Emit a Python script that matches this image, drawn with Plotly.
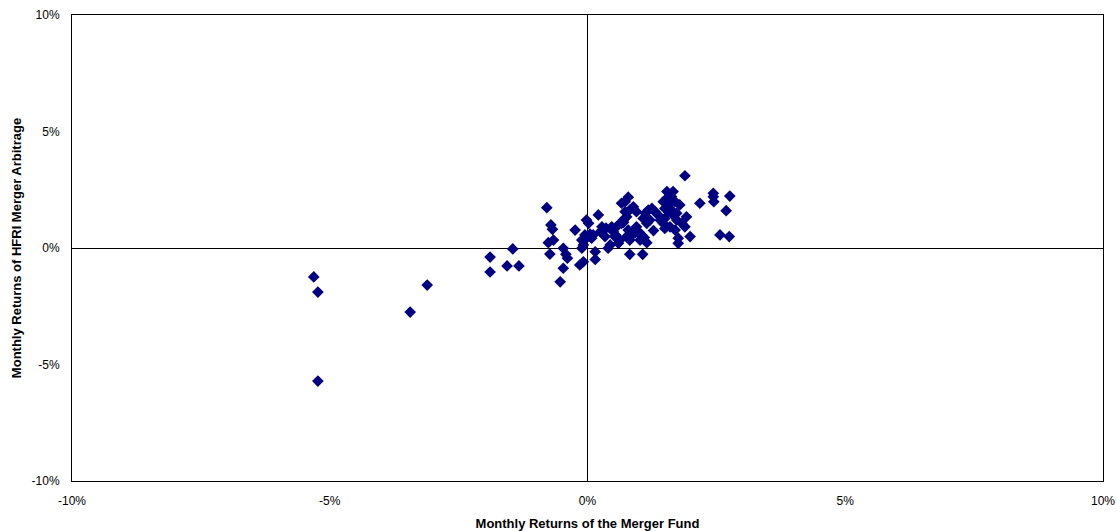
import plotly.graph_objects as go

# Monthly returns (%) — Merger Fund (x) vs HFRI Merger Arbitrage (y)
merger_fund = [
    -5.31, -5.23, -5.23, -3.44, -3.11, -1.89, -1.89, -1.56, -1.45, -1.33,
    -0.79, -0.71, -0.68, -0.76, -0.66, -0.73, -0.47, -0.42, -0.39, -0.47,
    -0.53, -0.24, -0.15, -0.08, -0.11, -0.08, -0.11, -0.02, 0.02, -0.05,
    -0.02, 0.15, 0.15, 0.21, 0.28, 0.34, 0.11, 0.08, 0.40, 0.44,
    0.47, 0.50, 0.53, 0.60, 0.63, 0.66, 0.73, 0.79, 0.73, 0.76,
    0.69, 0.66, 0.82, 0.89, 0.95, 0.76, 0.82, 0.79, 0.89, 0.82,
    0.95, 0.99, 1.05, 1.02, 1.07, 1.15, 1.08, 1.12, 1.18, 1.25,
    1.31, 1.15, 1.21, 1.37, 1.41, 1.47, 1.50, 1.54, 1.66, 1.63,
    1.47, 1.54, 1.60, 1.70, 1.79, 1.50, 1.57, 1.63, 1.66, 1.73,
    1.50, 1.60, 1.70, 1.73, 1.83, 1.89, 1.92, 1.76, 1.76, 1.99,
    1.89, 2.18, 2.44, 2.44, 2.45, 2.69, 2.57, 2.75, 2.76,
    0.05, 0.25, 0.58, 0.70, 1.00, 1.28, 0.36, 0.55, 0.92, 1.10,
]
hfri_merger_arb = [
    -1.24, -1.89, -5.71, -2.75, -1.59, -0.39, -1.03, -0.77, -0.04, -0.77,
    1.73, 0.99, 0.80, 0.23, 0.34, -0.26, -0.01, -0.27, -0.44, -0.87,
    -1.45, 0.77, -0.73, -0.59, -0.01, 0.13, 0.34, 1.20, 1.06, 0.56,
    0.42, -0.16, -0.49, 1.42, 0.91, 0.49, 0.56, 0.42, -0.01, 0.13,
    0.91, 0.70, 0.49, 0.20, 0.34, 1.92, 1.99, 2.18, 1.56, 1.34,
    1.20, 1.06, 1.63, 1.77, 1.56, 0.49, 0.34, 0.77, 0.63, -0.27,
    0.91, 0.70, 0.56, 0.34, -0.27, 0.23, 1.27, 1.49, 1.63, 1.70,
    1.56, 1.06, 1.20, 1.42, 1.20, 1.06, 1.27, 2.42, 2.42, 2.20,
    1.99, 2.13, 1.92, 1.99, 1.85, 1.70, 1.56, 1.63, 1.42, 1.49,
    0.84, 0.91, 0.77, 1.20, 1.06, 0.91, 1.34, 0.42, 0.20, 0.49,
    3.10, 1.92, 2.35, 2.20, 1.99, 1.60, 0.56, 0.49, 2.23,
    0.60, 0.70, 0.95, 1.10, 0.62, 0.75, 0.85, 0.55, 0.65, 0.45,
]

tick_values = [-10, -5, 0, 5, 10]
tick_labels = ["-10%", "-5%", "0%", "5%", "10%"]

fig = go.Figure(
    go.Scatter(
        x=merger_fund, y=hfri_merger_arb, mode="markers",
        marker=dict(symbol="diamond", size=9, color="#000080",
                    line=dict(width=0)),
    )
)

font_main = "Liberation Sans, Arial"
axis_common = dict(
    range=[-10, 10], tickvals=tick_values, ticktext=tick_labels,
    showgrid=False, zeroline=True, zerolinecolor="black", zerolinewidth=1,
    showline=True, linecolor="black", linewidth=1, mirror=True,
    ticks="", tickfont=dict(family=font_main, size=12, color="black"),
    fixedrange=True, automargin=False,
)

fig.update_layout(
    width=1117, height=531,
    margin=dict(l=72, r=14, t=15, b=50),
    paper_bgcolor="white", plot_bgcolor="white",
    showlegend=False,
    xaxis=dict(**axis_common, ticklabelstandoff=9,
               title=dict(text="<b>Monthly Returns of the Merger Fund</b>",
                          font=dict(family=font_main, size=13, color="black"),
                          standoff=11)),
    yaxis=dict(**axis_common, ticklabelstandoff=9,
               title=dict(text="<b>Monthly Returns of HFRI Merger Arbitrage</b>",
                          font=dict(family=font_main, size=13, color="black"),
                          standoff=7)),
)

fig.write_html("out.html")
